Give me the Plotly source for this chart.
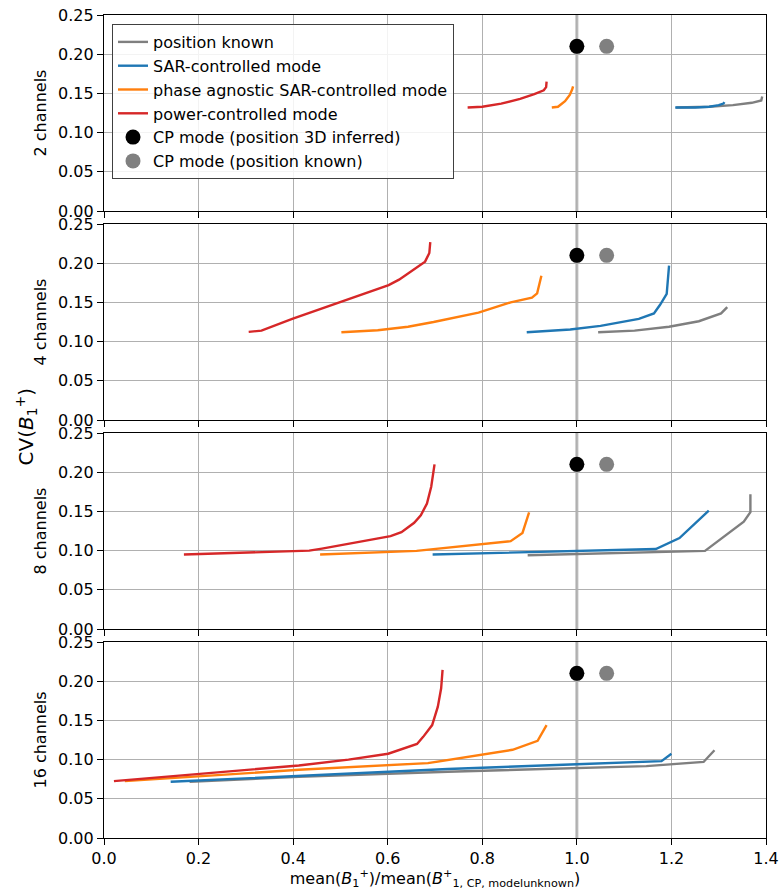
import plotly.graph_objects as go
from plotly.subplots import make_subplots

# ---------------- data ----------------
panel_labels = ["2 channels", "4 channels", "8 channels", "16 channels"]

# 2 channels
x2_known = [1.21, 1.28, 1.33, 1.37, 1.39, 1.392]
y2_known = [0.132, 0.133, 0.135, 0.138, 0.141, 0.146]
x2_sar = [1.208, 1.25, 1.28, 1.30, 1.31, 1.312]
y2_sar = [0.132, 0.132, 0.133, 0.135, 0.137, 0.139]
x2_phase = [0.947, 0.96, 0.975, 0.985, 0.990, 0.992]
y2_phase = [0.132, 0.133, 0.140, 0.148, 0.155, 0.159]
x2_power = [0.769, 0.80, 0.84, 0.88, 0.91, 0.93, 0.935, 0.936]
y2_power = [0.132, 0.133, 0.137, 0.143, 0.149, 0.154, 0.158, 0.165]

# 4 channels
x4_known = [1.045, 1.122, 1.195, 1.258, 1.305, 1.318]
y4_known = [0.112, 0.114, 0.119, 0.126, 0.136, 0.144]
x4_sar = [0.894, 0.986, 1.050, 1.131, 1.163, 1.176, 1.190, 1.195]
y4_sar = [0.112, 0.1154, 0.120, 0.129, 0.136, 0.147, 0.161, 0.197]
x4_phase = [0.502, 0.579, 0.643, 0.697, 0.792, 0.860, 0.905, 0.916, 0.925]
y4_phase = [0.112, 0.1145, 0.119, 0.125, 0.137, 0.150, 0.156, 0.1615, 0.184]
x4_power = [0.306, 0.333, 0.398, 0.507, 0.602, 0.624, 0.679, 0.688, 0.690]
y4_power = [0.1124, 0.114, 0.129, 0.152, 0.172, 0.179, 0.202, 0.213, 0.227]

# 8 channels
x8_known = [0.896, 1.271, 1.353, 1.367, 1.367]
y8_known = [0.094, 0.0996, 0.137, 0.149, 0.172]
x8_sar = [0.695, 0.986, 1.167, 1.217, 1.279]
y8_sar = [0.095, 0.0996, 0.102, 0.116, 0.151]
x8_phase = [0.457, 0.661, 0.860, 0.885, 0.899]
y8_phase = [0.095, 0.0996, 0.112, 0.1226, 0.1487]
x8_power = [0.169, 0.434, 0.461, 0.534, 0.606, 0.629, 0.656, 0.670, 0.683, 0.692, 0.699]
y8_power = [0.095, 0.100, 0.1026, 0.111, 0.1185, 0.1235, 0.1355, 0.145, 0.160, 0.1815, 0.210]

# 16 channels
x16_known = [0.181, 0.412, 0.727, 1.0, 1.147, 1.268, 1.291]
y16_known = [0.0717, 0.078, 0.0845, 0.0887, 0.0917, 0.097, 0.112]
x16_sar = [0.141, 0.412, 0.727, 1.0, 1.179, 1.200]
y16_sar = [0.0717, 0.0794, 0.088, 0.094, 0.098, 0.1075]
x16_phase = [0.044, 0.223, 0.412, 0.685, 0.801, 0.864, 0.917, 0.936]
y16_phase = [0.0725, 0.080, 0.087, 0.0955, 0.106, 0.1125, 0.124, 0.144]
x16_power = [0.021, 0.202, 0.412, 0.517, 0.601, 0.662, 0.675, 0.694, 0.706, 0.713, 0.716]
y16_power = [0.0725, 0.0815, 0.0925, 0.100, 0.1075, 0.120, 0.129, 0.144, 0.1675, 0.191, 0.2145]

# CP mode points (same in every panel)
cp_inferred_x = [1.0]
cp_inferred_y = [0.21]
cp_known_x = [1.063]
cp_known_y = [0.21]

series_names = ["position known", "SAR-controlled mode",
                "phase agnostic SAR-controlled mode", "power-controlled mode"]
series_colors = ["#7f7f7f", "#1f77b4", "#ff7f0e", "#d62728"]

panels = [
    [(x2_known, y2_known), (x2_sar, y2_sar), (x2_phase, y2_phase), (x2_power, y2_power)],
    [(x4_known, y4_known), (x4_sar, y4_sar), (x4_phase, y4_phase), (x4_power, y4_power)],
    [(x8_known, y8_known), (x8_sar, y8_sar), (x8_phase, y8_phase), (x8_power, y8_power)],
    [(x16_known, y16_known), (x16_sar, y16_sar), (x16_phase, y16_phase), (x16_power, y16_power)],
]

# ---------------- figure ----------------
W, H = 779, 890
ML, MR, MT, MB = 104, 13, 15, 52
plot_h = H - MT - MB
gap = 13

fig = make_subplots(rows=4, cols=1, shared_xaxes=True,
                    vertical_spacing=gap / plot_h)

FONT = "DejaVu Sans, Liberation Sans, sans-serif"

for r, panel in enumerate(panels, start=1):
    first = (r == 1)
    for (xs, ys), name, col in zip(panel, series_names, series_colors):
        fig.add_trace(go.Scatter(x=xs, y=ys, mode="lines", name=name,
                                 line=dict(color=col, width=2.4),
                                 legendgroup=name, showlegend=first),
                      row=r, col=1)
    fig.add_trace(go.Scatter(x=cp_inferred_x, y=cp_inferred_y, mode="markers",
                             name="CP mode (position 3D inferred)",
                             marker=dict(color="black", size=15),
                             legendgroup="cpi", showlegend=first),
                  row=r, col=1)
    fig.add_trace(go.Scatter(x=cp_known_x, y=cp_known_y, mode="markers",
                             name="CP mode (position known)",
                             marker=dict(color="#808080", size=15),
                             legendgroup="cpk", showlegend=first),
                  row=r, col=1)
    # vertical reference line at x = 1
    xref = "x" if r == 1 else f"x{r}"
    yref = "y domain" if r == 1 else f"y{r} domain"
    fig.add_shape(type="line", x0=1, x1=1, y0=0, y1=1, xref=xref, yref=yref,
                  line=dict(color="rgba(128,128,128,0.55)", width=3), layer="below")

axis_common = dict(showline=True, mirror=True, linecolor="black", linewidth=1.3,
                   ticks="outside", ticklen=6, tickwidth=1.3, tickcolor="black",
                   showgrid=True, gridcolor="#b0b0b0", gridwidth=1.2,
                   zeroline=False, automargin=False,
                   tickfont=dict(family=FONT, size=16, color="black"))

for r in range(1, 5):
    fig.update_xaxes(range=[0, 1.4], dtick=0.2, tick0=0, tickformat=".1f",
                     **axis_common, row=r, col=1)
    fig.update_yaxes(range=[0, 0.25], dtick=0.05, tick0=0, tickformat=".2f",
                     title=dict(text=panel_labels[r - 1], standoff=7,
                                font=dict(family=FONT, size=16, color="black")),
                     **axis_common, row=r, col=1)

fig.update_xaxes(title=dict(
    text="mean(<i>B</i><sub>1</sub><sup>+</sup>)/mean(<i>B</i><sup>+</sup><sub>1, CP, modelunknown</sub>)",
    standoff=4, font=dict(family=FONT, size=16, color="black")), row=4, col=1)

fig.add_annotation(text="CV(<i>B</i><sub>1</sub><sup>+</sup>)", textangle=-90,
                   xref="paper", yref="paper", x=(26 - ML) / (W - ML - MR), y=0.5,
                   xanchor="center", yanchor="middle", showarrow=False,
                   font=dict(family=FONT, size=20, color="black"))

fig.update_layout(
    width=W, height=H,
    margin=dict(l=ML, r=MR, t=MT, b=MB, pad=0),
    paper_bgcolor="white", plot_bgcolor="white",
    font=dict(family=FONT, size=16, color="black"),
    legend=dict(x=(112 - ML) / (W - ML - MR), y=1 - (24 - MT) / plot_h,
                xanchor="left", yanchor="top",
                bgcolor="rgba(255,255,255,0.85)", bordercolor="#404040", borderwidth=1,
                font=dict(family=FONT, size=16, color="black"),
                tracegroupgap=0, traceorder="normal", itemsizing="trace"),
)

fig.write_html("out.html", config={"displayModeBar": False},
               post_script="document.body.style.margin='0px';document.body.style.overflow='hidden';")
